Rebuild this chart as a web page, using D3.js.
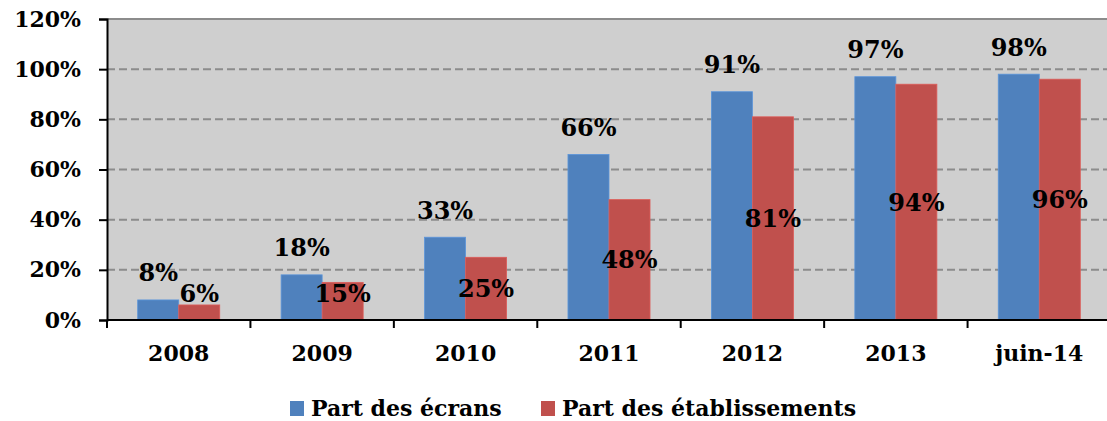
<!DOCTYPE html>
<html><head><meta charset="utf-8">
<script src="https://cdn.jsdelivr.net/npm/d3@7"></script>
<style>
html,body{margin:0;padding:0;background:#fff;}
text{font-family:"DejaVu Serif",serif;font-weight:bold;fill:#000;}
</style></head>
<body>
<svg id="c" width="1107" height="421"></svg>
<script>
const categories = ["2008","2009","2010","2011","2012","2013","juin-14"];
const seriesNames = ["Part des écrans","Part des établissements"];
const ecrans = [8,18,33,66,91,97,98];
const etablissements = [6,15,25,48,81,94,96];
const yTicks = [0,20,40,60,80,100,120];
const colors = ["#4F81BD","#C0504D"];

(function(){
const svg = d3.select("#c");
const pL = 107, pR = 1111, pT = 19, pB = 320;
const x0 = d3.scaleBand().domain(categories).range([pL, pR]).padding(0);
const bw = x0.bandwidth();
const x1 = d3.scaleBand().domain([0,1]).range([bw*0.214, bw*0.786]).padding(0);
const y = d3.scaleLinear().domain([0,120]).range([pB, pT]);

svg.append("rect").attr("x", pL).attr("y", pT).attr("width", pR-pL).attr("height", pB-pT).attr("fill", "#CFCFCF");

svg.append("g").selectAll("line").data(yTicks.filter(d => d > 0 && d < 120)).join("line")
  .attr("x1", pL).attr("x2", pR).attr("y1", d => y(d)).attr("y2", d => y(d))
  .attr("stroke", "#8C8C8C").attr("stroke-width", 2).attr("stroke-dasharray", "8,4");
svg.append("line").attr("x1", pL).attr("x2", pR).attr("y1", y(120)).attr("y2", y(120))
  .attr("stroke", "#8C8C8C").attr("stroke-width", 2);

const data = categories.map((c,i) => ({c, v:[ecrans[i], etablissements[i]]}));
const g = svg.append("g");
data.forEach(d => {
  d.v.forEach((v,s) => {
    g.append("rect")
      .attr("x", x0(d.c) + x1(s)).attr("y", y(v))
      .attr("width", x1.bandwidth()).attr("height", y(0) - y(v))
      .attr("fill", colors[s]).attr("stroke", d3.color(colors[s]).brighter(0.4)).attr("stroke-width", 0.8);
  });
});

const yAxis = d3.axisLeft(y).tickValues(yTicks).tickFormat(d => d + "%").tickSize(8).tickPadding(18);
const ya = svg.append("g").attr("transform", `translate(${pL},0)`).call(yAxis);
ya.select(".domain").attr("stroke", "#000").attr("stroke-width", 2);
ya.selectAll(".tick line").attr("stroke", "#000").attr("stroke-width", 2);
ya.selectAll(".tick text").style("font-size", "22px").style("font-family", "DejaVu Serif").style("font-weight", "bold").attr("fill", "#000");

const xa = svg.append("g").attr("transform", `translate(0,${pB})`);
xa.append("line").attr("x1", pL).attr("x2", pR).attr("y1", 0).attr("y2", 0).attr("stroke", "#000").attr("stroke-width", 2);
xa.selectAll("line.tk").data(categories.map((c,i)=>i).concat([categories.length])).join("line").attr("class","tk")
  .attr("x1", i => pL + i*bw).attr("x2", i => pL + i*bw).attr("y1", 0).attr("y2", 8)
  .attr("stroke", "#000").attr("stroke-width", 2);
xa.selectAll("text").data(categories).join("text")
  .attr("x", d => x0(d) + bw/2).attr("y", 41)
  .attr("text-anchor", "middle").style("font-size", "22px").text(d => d);

const lab = svg.append("g").style("font-size", "24px");
data.forEach(d => {
  lab.append("text").attr("x", x0(d.c) + x1(0) + x1.bandwidth()/2).attr("y", y(d.v[0]) - 27)
    .attr("dy", "0.35em").attr("text-anchor", "middle").text(d.v[0] + "%");
  lab.append("text").attr("x", x0(d.c) + x1(1) + x1.bandwidth()/2).attr("y", Math.min(y(d.v[1]/2), 294))
    .attr("dy", "0.35em").attr("text-anchor", "middle").text(d.v[1] + "%");
});

const lg = svg.append("g");
const legX = [290, 541];
seriesNames.forEach((n,i) => {
  lg.append("rect").attr("x", legX[i]).attr("y", 401).attr("width", 14).attr("height", 15).attr("fill", colors[i]);
  lg.append("text").attr("x", legX[i] + 21).attr("y", 408).attr("dy", "0.35em").style("font-size", "22px").text(n);
});
})();
</script>
</body></html>
